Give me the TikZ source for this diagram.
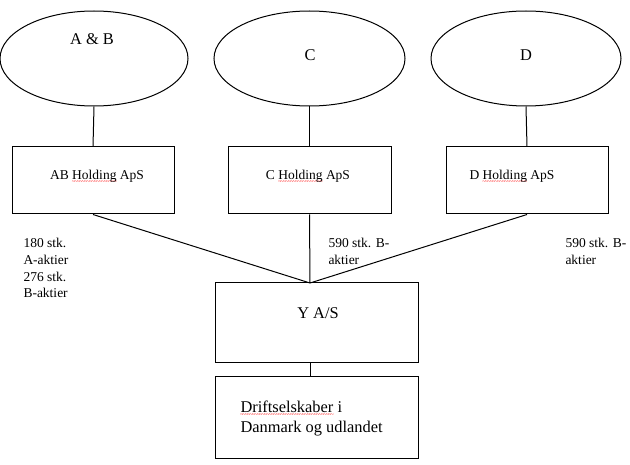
\documentclass[tikz,border=0pt]{standalone}
\usepackage{fontspec}
\setmainfont{Liberation Serif}
\usetikzlibrary{shapes.geometric}
\newcommand\spellwave[1]{\setbox0\hbox{#1}\rlap{\color{red}\raisebox{-4.3pt}[0pt][0pt]{\hbox to\wd0{\xleaders\hbox{\fontsize{6}{6}\selectfont\kern-0.45pt\textasciitilde\kern-0.45pt}\hfill}}}\box0\relax}
\begin{document}
\begin{tikzpicture}[x=1pt,y=-1pt,line width=1pt,
  ell/.style={draw, ellipse, inner sep=0pt, minimum height=95pt},
  box/.style={draw, rectangle, inner sep=0pt},
  txt/.style={inner sep=0pt, anchor=base},
  lbl/.style={inner sep=0pt, anchor=base west, font=\fontsize{13.5}{16}\selectfont},
  small/.style={font=\fontsize{13.5}{16}\selectfont},
  big/.style={font=\fontsize{16.4}{20}\selectfont}]
\useasboundingbox (0,0) rectangle (630,465);
% owners
\node[ell, minimum width=188pt] (e1) at (94,58.5) {};
\node[ell, minimum width=191pt] (e2) at (309.5,58.5) {};
\node[ell, minimum width=190pt] (e3) at (526,58.5) {};
\node[txt, big] (t1) at (92,45) {A \& B};
\node[txt, big] (t2) at (310,61) {C};
\node[txt, big] (t3) at (526,61) {D};
% holdings
\node[box, minimum width=162pt, minimum height=67pt] (b1) at (93,180.5) {};
\node[box, minimum width=163pt, minimum height=67pt] (b2) at (309.5,180.5) {};
\node[box, minimum width=162pt, minimum height=67pt] (b3) at (527,180.5) {};
\node[txt, small] (h1) at (97,179.5) {AB \spellwave{Holding} ApS};
\node[txt, small] (h2) at (308,179.5) {C \spellwave{Holding} ApS};
\node[txt, small] (h3) at (512,179.5) {D \spellwave{Holding} ApS};
% Y A/S and operating companies
\node[box, minimum width=203pt, minimum height=80pt] (y) at (316.5,323) {};
\node[txt, big] (yt) at (318,318.5) {Y A/S};
\node[box, minimum width=203pt, minimum height=81pt] (d) at (316.5,417.5) {};
\node[lbl, big] (d1) at (240,412.5) {\spellwave{Driftselskaber} i};
\node[lbl, big] (d2) at (240,432.5) {Danmark og udlandet};
\coordinate (j) at (310,283);
% connectors
\draw (e1.south) -- (b1.north);
\draw (e2.south) -- (b2.north);
\draw (e3.south) -- (b3.north);
\draw (b1.south) -- (j);
\draw (b2.south) -- (j);
\draw (b3.south) -- (j);
\draw (y.south -| j) -- (d.north -| j);
% share labels
\node[lbl] (l1) at (23,248) {180 stk.};
\node[lbl] (l2) at (23,264.5) {A-aktier};
\node[lbl] (l3) at (23,281.5) {276 stk.};
\node[lbl] (l4) at (23,298) {B-aktier};
\node[lbl] (m1) at (328,248) {590 stk. B-};
\node[lbl] (m2) at (328,264.5) {aktier};
\node[lbl] (r1) at (565,248) {590 stk. B-};
\node[lbl] (r2) at (565,264.5) {aktier};
\end{tikzpicture}
\end{document}
